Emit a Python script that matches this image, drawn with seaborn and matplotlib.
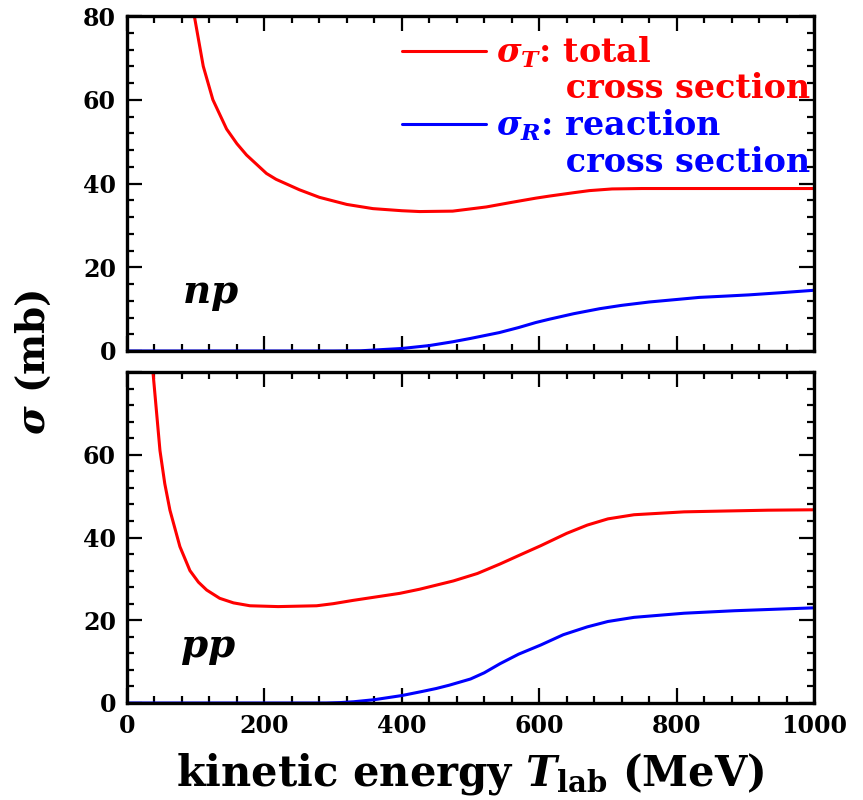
import matplotlib
matplotlib.use("Agg")
import matplotlib.pyplot as plt
from matplotlib.ticker import MultipleLocator
from matplotlib.lines import Line2D
import numpy as np
import pandas as pd
import seaborn as sns

# ---------------- data ----------------
np_total_T = [93, 98, 111, 125, 145, 160, 174, 203, 217, 251, 280, 320, 358, 400, 426,
              474, 523, 560, 595, 615, 650, 673, 706, 750, 800, 900, 1000]
np_total_S = [85, 80, 68, 60, 53, 49.5, 46.8, 42.4, 41.0, 38.5, 36.7, 35.0, 34.0, 33.5, 33.3,
              33.4, 34.4, 35.5, 36.5, 37.0, 37.8, 38.3, 38.7, 38.8, 38.8, 38.8, 38.8]

np_reac_T = [0, 100, 200, 300, 340, 400, 440, 474, 500, 542, 570, 595, 615, 650,
             688, 720, 760, 800, 833, 870, 905, 950, 1000]
np_reac_S = [0, 0, 0, 0, 0.05, 0.6, 1.3, 2.2, 3.0, 4.4, 5.6, 6.8, 7.6, 8.9,
             10.1, 10.9, 11.7, 12.3, 12.8, 13.1, 13.4, 13.9, 14.5]

pp_total_T = [36, 38, 48, 55, 62.5, 77, 91.6, 104, 116, 135, 155, 179, 220, 276, 300, 329,
              397, 426, 475, 510, 543, 575, 602, 640, 670, 700, 738, 811, 870, 933, 1000]
pp_total_S = [82, 79.6, 61, 53, 46.6, 37.8, 32.0, 29.2, 27.3, 25.3, 24.2, 23.5, 23.3, 23.5, 24.0, 24.8,
              26.5, 27.5, 29.5, 31.3, 33.6, 36.0, 38.0, 41.0, 43.0, 44.5, 45.5, 46.2, 46.4, 46.6, 46.7]

pp_reac_T = [0, 100, 200, 290, 310, 330, 360, 400, 430, 450, 469, 500, 520, 543, 570, 602,
             635, 670, 700, 738, 811, 884, 950, 1000]
pp_reac_S = [0, 0, 0, 0, 0.1, 0.3, 0.8, 1.8, 2.8, 3.5, 4.3, 5.8, 7.3, 9.5, 11.8, 14.0,
             16.5, 18.4, 19.7, 20.7, 21.7, 22.3, 22.7, 23.0]

panel_labels = ["np", "pp"]
x_ticks = [0, 200, 400, 600, 800, 1000]
legend_labels = [r"$\sigma_T$: total", "      cross section",
                 r"$\sigma_R$: reaction", "      cross section"]

RED = "#ff0000"
BLUE = "#0000ff"

# ---------------- style ----------------
sns.set_theme(style="ticks")
plt.rcParams["font.family"] = ["DejaVu Serif"]
plt.rcParams["font.weight"] = "bold"
plt.rcParams["text.color"] = "black"
plt.rcParams["axes.labelcolor"] = "black"
plt.rcParams["xtick.color"] = "black"
plt.rcParams["ytick.color"] = "black"
plt.rcParams["mathtext.fontset"] = "custom"
plt.rcParams["mathtext.rm"] = "DejaVu Serif:bold"
plt.rcParams["mathtext.it"] = "DejaVu Serif:italic:bold"
plt.rcParams["mathtext.bf"] = "DejaVu Serif:bold"

fig = plt.figure(figsize=(8.63, 8.0), dpi=100)
fig.patch.set_facecolor("white")

left, width = 127 / 863, 687 / 863
ax1 = fig.add_axes([left, 1 - 351 / 800, width, 335 / 800])
ax2 = fig.add_axes([left, 1 - 703 / 800, width, 331 / 800])

def df(T, S):
    return pd.DataFrame({"T": T, "S": S})

sns.lineplot(data=df(np_total_T, np_total_S), x="T", y="S", ax=ax1, color=RED, lw=2.2)
sns.lineplot(data=df(np_reac_T, np_reac_S), x="T", y="S", ax=ax1, color=BLUE, lw=2.2)
sns.lineplot(data=df(pp_total_T, pp_total_S), x="T", y="S", ax=ax2, color=RED, lw=2.2)
sns.lineplot(data=df(pp_reac_T, pp_reac_S), x="T", y="S", ax=ax2, color=BLUE, lw=2.2)

for ax in (ax1, ax2):
    ax.set_xlim(0, 1000)
    ax.set_ylim(0, 80)
    ax.set_xlabel("")
    ax.set_ylabel("")
    ax.xaxis.set_major_locator(MultipleLocator(200))
    ax.xaxis.set_minor_locator(MultipleLocator(40))
    ax.yaxis.set_minor_locator(MultipleLocator(4))
    ax.tick_params(which="both", direction="in", top=True, right=True,
                   width=1.6, color="black", labelcolor="black")
    ax.tick_params(which="major", length=11, labelsize=17, pad=8)
    ax.tick_params(which="minor", length=5)
    for sp in ax.spines.values():
        sp.set_visible(True)
        sp.set_linewidth(2.4)
        sp.set_color("black")
    ax.set_facecolor("white")

ax1.set_yticks([0, 20, 40, 60, 80])
ax1.set_xticks(x_ticks)
ax1.set_xticklabels([])
ax2.set_yticks([0, 20, 40, 60, 80], labels=["0", "20", "40", "60", ""])
ax2.set_xticks(x_ticks, labels=[str(v) for v in x_ticks])
for lab in ax1.get_yticklabels() + ax2.get_yticklabels() + ax2.get_xticklabels():
    lab.set_fontweight("bold")
    lab.set_fontsize(17)
    lab.set_color("black")

ax1.text(80, 11.5, "$" + panel_labels[0] + "$", fontsize=28, ha="left", va="baseline")
ax2.text(77, 11.0, "$" + panel_labels[1] + "$", fontsize=28, ha="left", va="baseline")

# legend
handles = [Line2D([], [], color=RED, lw=2.2), Line2D([], [], color="none"),
           Line2D([], [], color=BLUE, lw=2.2), Line2D([], [], color="none")]
leg = ax1.legend(handles, legend_labels, loc="upper left",
                 bbox_to_anchor=((402 - 127 - 18) / 687, 1.0), frameon=False,
                 fontsize=24, handlelength=2.5, handletextpad=0.3,
                 labelspacing=0.08, borderaxespad=0.3, borderpad=0.25,
                 labelcolor=[RED, RED, BLUE, BLUE])
for t in leg.get_texts():
    t.set_fontweight("bold")

fig.text(33 / 863, 1 - 362 / 800, r"$\sigma$ (mb)", rotation=90, fontsize=28,
         ha="center", va="center")
fig.text(470 / 863, 1 - 774 / 800, r"kinetic energy $T_{\rm lab}$ (MeV)", fontsize=30,
         ha="center", va="center")

fig.savefig("out.png", dpi=100, facecolor="white")
